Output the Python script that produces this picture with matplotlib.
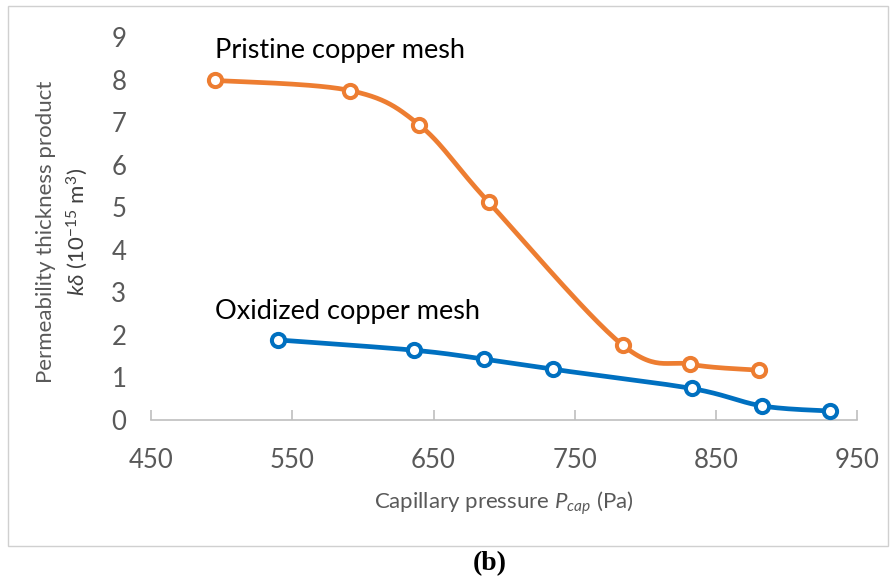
import numpy as np
import matplotlib
matplotlib.use("Agg")
import matplotlib.pyplot as plt
from matplotlib.patches import Rectangle

# Data
pristine_x = [495, 591, 640, 689, 784, 832, 881]
pristine_y = [7.98, 7.74, 6.93, 5.12, 1.76, 1.31, 1.17]
oxid_x = [540, 636, 686, 735, 833, 883, 931]
oxid_y = [1.88, 1.64, 1.43, 1.19, 0.74, 0.33, 0.21]
xticks = [450, 550, 650, 750, 850, 950]
yticks = list(range(0, 10))

ORANGE = "#ED7D31"
BLUE = "#0070C0"
GRAY = "#595959"

plt.rcParams['font.family'] = ['Lato', 'DejaVu Sans']
plt.rcParams['mathtext.fontset'] = 'custom'
plt.rcParams['mathtext.it'] = 'Lato:italic'
plt.rcParams['mathtext.rm'] = 'Lato'

fig = plt.figure(figsize=(8.93, 5.83), dpi=100)
ax = fig.add_axes([0.1695, 0.2796, 0.790, 0.657])
ax.set_xlim(450, 950)
ax.set_ylim(0, 9)


def smooth(ax, xs, ys, n=30):
    # Excel-like Bezier smoothing computed in display space
    pts = ax.transData.transform(np.column_stack([xs, ys]))
    P = np.vstack([pts[0], pts, pts[-1]])
    out = []
    for i in range(1, len(P) - 2):
        p0, p1, p2, p3 = P[i - 1], P[i], P[i + 1], P[i + 2]
        c1 = p1 + (p2 - p0) / 6.0
        c2 = p2 - (p3 - p1) / 6.0
        t = np.linspace(0, 1, n)[:, None]
        seg = ((1 - t) ** 3) * p1 + 3 * ((1 - t) ** 2) * t * c1 + 3 * (1 - t) * t ** 2 * c2 + t ** 3 * p2
        out.append(seg if i == 1 else seg[1:])
    seg = np.vstack(out)
    d = ax.transData.inverted().transform(seg)
    return d[:, 0], d[:, 1]

for xs, ys, c in [(pristine_x, pristine_y, ORANGE), (oxid_x, oxid_y, BLUE)]:
    sx, sy = smooth(ax, xs, ys)
    ax.plot(sx, sy, color=c, lw=3.4, solid_capstyle='round', zorder=3)
    ax.plot(xs, ys, linestyle='none', marker='o', ms=9.5, mfc='white', mec=c, mew=2.9, zorder=4)

for s in ['top', 'right', 'left']:
    ax.spines[s].set_visible(False)
ax.spines['bottom'].set_color('#BFBFBF')
ax.spines['bottom'].set_linewidth(1.2)
ax.set_xticks(xticks)
ax.set_yticks(yticks)
ax.tick_params(axis='x', direction='in', length=7, color='#BFBFBF', width=1.2,
               labelsize=18.5, labelcolor=GRAY, pad=20)
ax.tick_params(axis='y', length=0, labelsize=18.5, labelcolor=GRAY, pad=18)

ax.set_xlabel(r'Capillary pressure $P_{cap}$ (Pa)', fontsize=16, color=GRAY, labelpad=12)
fig.text(46 / 893, 1 - 232 / 583, 'Permeability thickness product', rotation=90,
         fontsize=16, color=GRAY, ha='center', va='center')
fig.text(77 / 893, 1 - 232 / 583, r'$k\delta$ (10$^{-15}$ m$^{3}$)', rotation=90,
         fontsize=16, color='#404040', ha='center', va='center')

ax.text(495, 8.68, 'Pristine copper mesh', fontsize=19.5, color='black', va='center', ha='left')
ax.text(495, 2.55, 'Oxidized copper mesh', fontsize=19.5, color='black', va='center', ha='left')

fig.patches.append(Rectangle((8 / 893, 1 - 546 / 583), (888 - 8) / 893, (546 - 6) / 583,
                             transform=fig.transFigure, fill=False, edgecolor='#D0D0D0', lw=1))
fig.text(490 / 893, 1 - 564 / 583, '(b)', family='Liberation Serif', weight='bold',
         fontsize=20, ha='center', va='center')

fig.savefig('out.png', dpi=100)
